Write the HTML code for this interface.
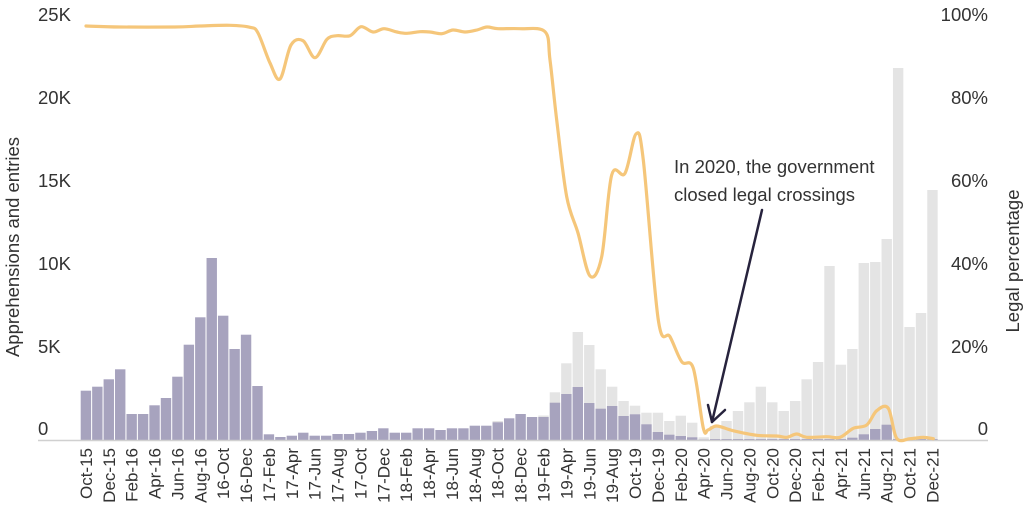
<!DOCTYPE html>
<html><head><meta charset="utf-8"><style>
html,body{margin:0;padding:0;background:#fff;}
svg{display:block;font-family:"Liberation Sans",Arial,sans-serif;}
</style></head><body>
<svg id="s" width="1024" height="512" viewBox="0 0 1024 512" xmlns="http://www.w3.org/2000/svg">
<g id="bars"></g>
<line x1="38" y1="440.5" x2="988" y2="440.5" stroke="#d0d0d0" stroke-width="1.5"/>
<g fill="#333" font-size="18.5">
<text x="38" y="21">25K</text><text x="38" y="104">20K</text><text x="38" y="187">15K</text>
<text x="38" y="270">10K</text><text x="38" y="353">5K</text><text x="38" y="435">0</text>
<g text-anchor="end">
<text x="988" y="21">100%</text><text x="988" y="104">80%</text><text x="988" y="187">60%</text>
<text x="988" y="270">40%</text><text x="988" y="353">20%</text><text x="988" y="435">0</text>
</g>
<text transform="translate(19,247) rotate(-90)" text-anchor="middle">Apprehensions and entries</text>
<text transform="translate(1019,261) rotate(-90)" text-anchor="middle">Legal percentage</text>
</g>
<g id="xl" fill="#333" font-size="17" text-anchor="end"></g>
<path id="ln" fill="none" stroke="#f5c67a" stroke-width="3.2" stroke-linejoin="round" stroke-linecap="round"/>
<g stroke="#27233d" stroke-width="2.5" fill="none" stroke-linecap="round" stroke-linejoin="round">
<line x1="762" y1="210" x2="712" y2="422"/>
<polyline points="708,405 712,422 725,410"/>
</g>
<g fill="#333" font-size="18.5">
<text x="674" y="173">In 2020, the government</text>
<text x="674" y="201">closed legal crossings</text>
</g>
</svg>
<script>
var P=[390.7,386.7,379.3,369.3,414,414,405.3,398,376.7,344.7,317.3,258,315.7,349,334.7,386,434.3,437,435.7,432.7,435.7,435.7,434,434,432.7,431,428.3,432.7,432.7,428.3,428.3,430,428.3,428.3,425.7,425.7,422.3,418.3,414,417,417,402.7,394,387,403,408.7,406,416,414.3,424.3,432,434.7,436,437.3,439.5,439,439,439,439,439,439,439,439,439,439,439,439,437.7,434.3,429,424.7,439,439,439,439];
var G={36:421,40:415.5,41:392.3,42:363.3,43:332,44:345,45:369.3,46:386.7,47:401,48:405.7,49:412.7,50:412.7,51:421,52:415.7,53:422.7,54:437.3,55:426,56:421,57:411,58:402.3,59:386.7,60:402.3,61:411,62:401,63:379.3,64:362,65:266,66:364.7,67:349,68:263,69:262,70:239,71:68,72:327,73:313,74:190};
var L=["Oct-15","Dec-15","Feb-16","Apr-16","Jun-16","Aug-16","16-Oct","16-Dec","17-Feb","17-Apr","17-Jun","17-Aug","17-Oct","17-Dec","18-Feb","18-Apr","18-Jun","18-Aug","18-Oct","18-Dec","19-Feb","19-Apr","19-Jun","19-Aug","Oct-19","Dec-19","Feb-20","Apr-20","Jun-20","Aug-20","Oct-20","Dec-20","Feb-21","Apr-21","Jun-21","Aug-21","Oct-21","Dec-21"];
var pts=[[86,26],[120,27],[175,27],[200,26],[230,25.3],[250,27.3],[258,33],[270,63],[280,79],[291,45],[303,40.7],[315,57.7],[327,39.3],[337,35.7],[350,35.7],[361,26.7],[373,32],[384,28.7],[397,32],[407,33.3],[420,31.7],[430,32],[442,33.7],[453,30],[465,32],[477,30],[487,27],[498,28.7],[520,28.7],[545,31.7],[550,60],[556.7,120],[566.7,196.7],[578,233],[590,276],[601.7,256.7],[611.7,175],[625,173.3],[636,134],[643.3,160],[658.3,320],[670,336.7],[681.7,361.7],[693.3,368.3],[703.3,428],[708,430],[716.7,426],[733,430.7],[756.7,435.3],[776.7,436],[786.7,437.3],[796.7,434],[806.7,437.3],[826.7,436.7],[840,437.3],[853.3,428.3],[866.7,425],[876.7,410.7],[888.3,408.3],[896.7,438.3],[910,438.7],[923.3,437.3],[933.3,438.7]];
var d="M"+pts[0][0]+","+pts[0][1];
for(var k=0;k<pts.length-1;k++){var p0=pts[k>0?k-1:k],p1=pts[k],p2=pts[k+1],p3=pts[k+2<pts.length?k+2:k+1];var t=0.5/3;
d+=" C"+(p1[0]+(p2[0]-p0[0])*t)+","+(p1[1]+(p2[1]-p0[1])*t)+" "+(p2[0]-(p3[0]-p1[0])*t)+","+(p2[1]-(p3[1]-p1[1])*t)+" "+p2[0]+","+p2[1];}
document.getElementById("ln").setAttribute("d",d);
var ns="http://www.w3.org/2000/svg",b=document.getElementById("bars"),xl=document.getElementById("xl");
function r(x,y,w,h,c){var e=document.createElementNS(ns,"rect");e.setAttribute("x",x);e.setAttribute("y",y);e.setAttribute("width",w);e.setAttribute("height",h);e.setAttribute("fill",c);b.appendChild(e);}
for(var i=0;i<75;i++){var x=80.7+i*11.44;
if(G[i]!==undefined&&G[i]<P[i])r(x,G[i],10.4,440-G[i],"#e4e4e4");
if(P[i]<440)r(x,P[i],10.4,440-P[i],"#a7a3be");}
for(var j=0;j<L.length;j++){var cx=80.7+j*2*11.44+5.2;var tx=document.createElementNS(ns,"text");
tx.setAttribute("transform","translate("+(cx+6)+",448) rotate(-90)");tx.textContent=L[j];xl.appendChild(tx);}
</script>
</body></html>
